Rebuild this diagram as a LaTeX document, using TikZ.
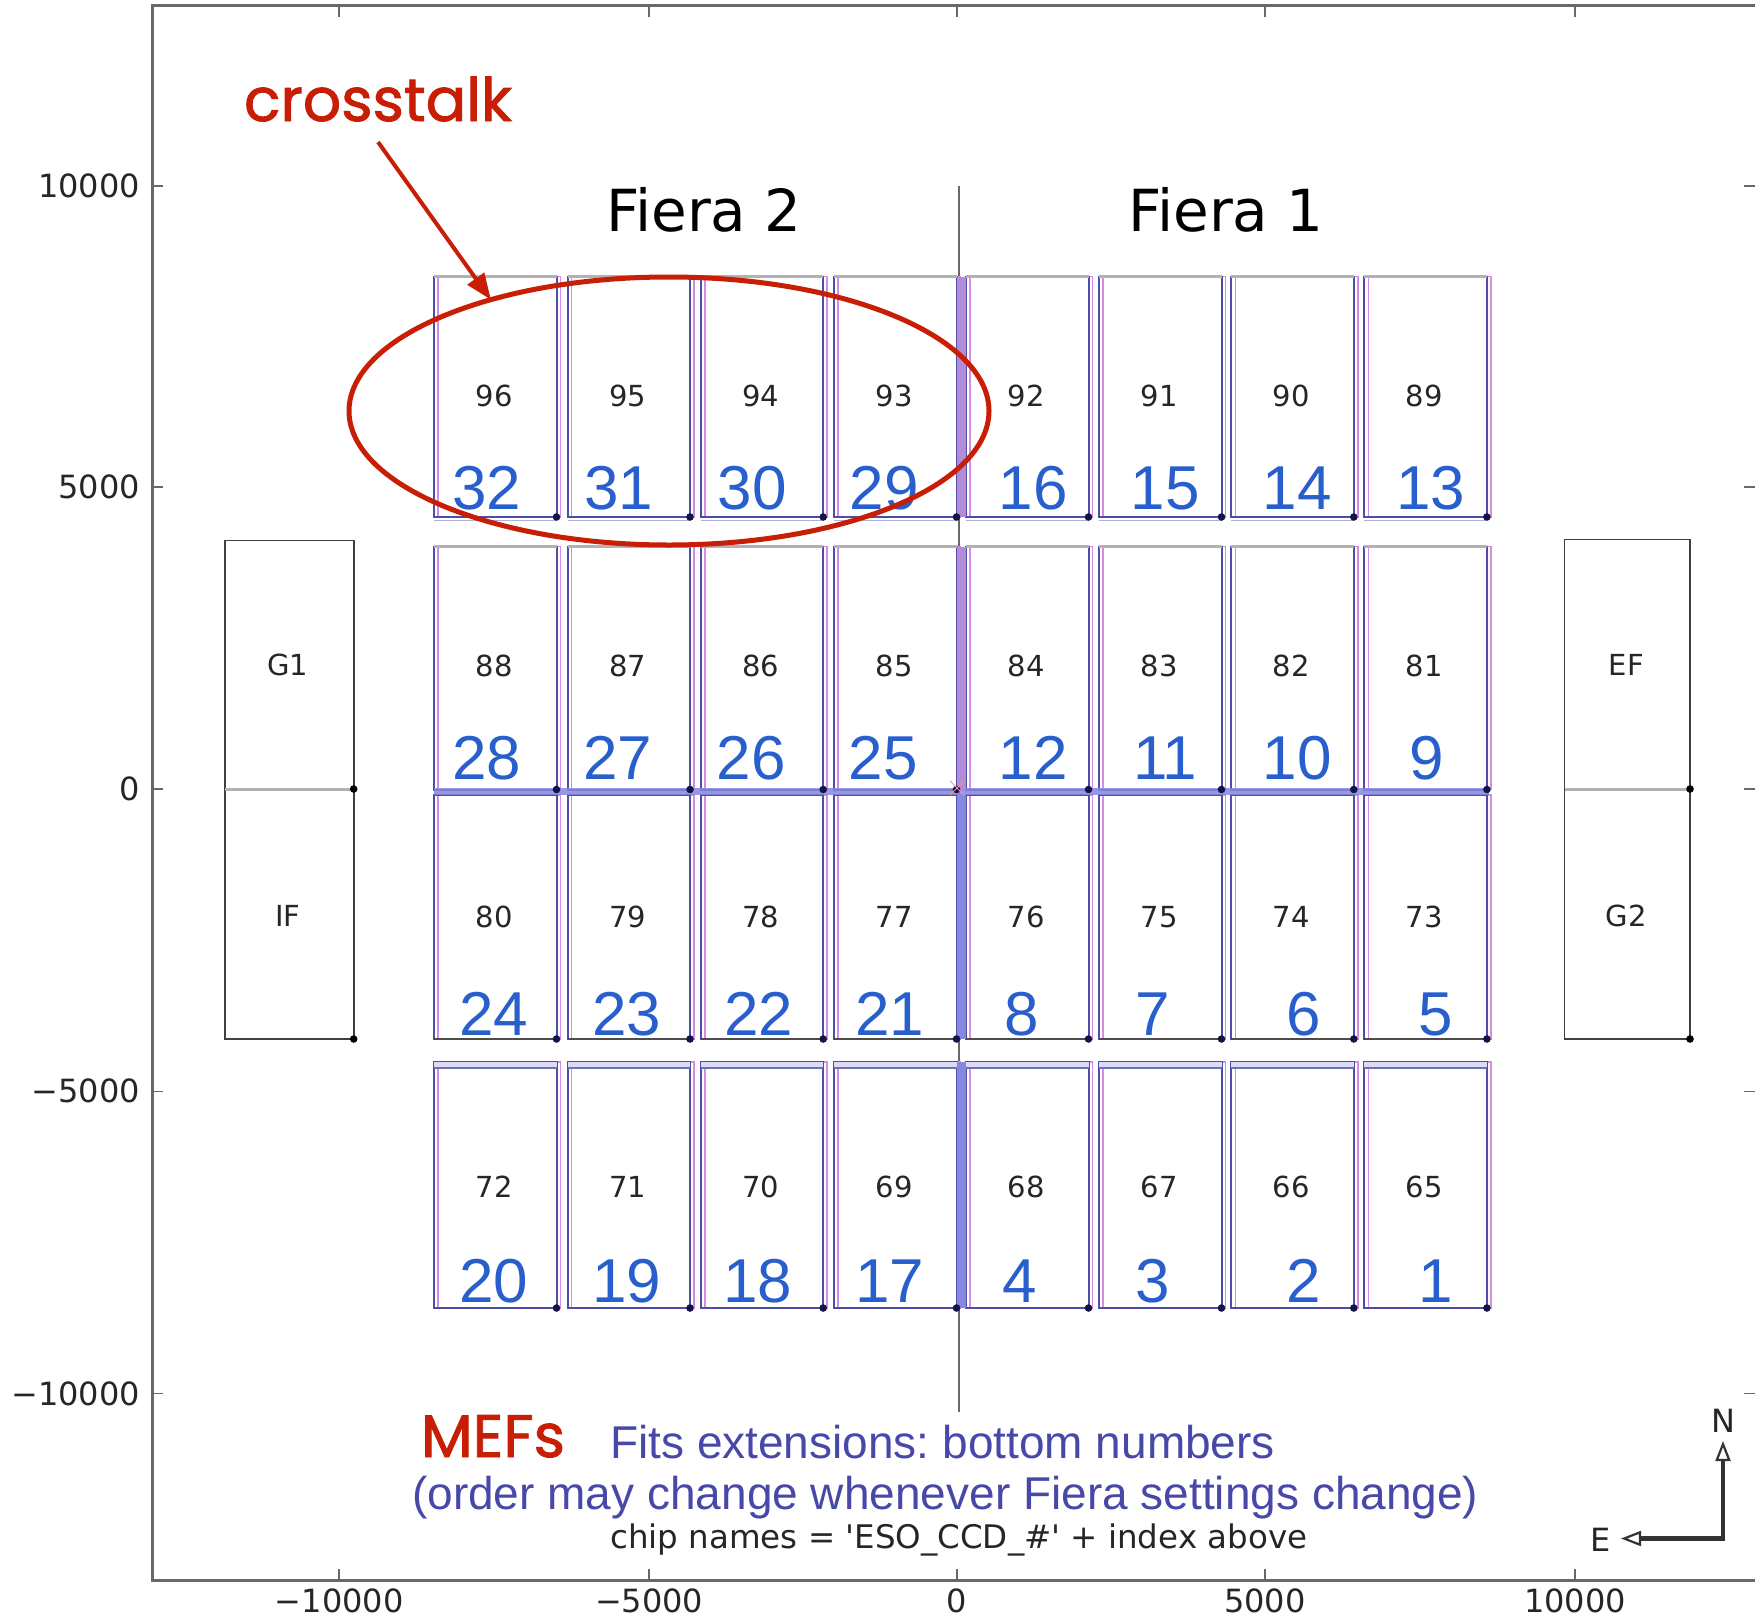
\documentclass[tikz,border=0pt]{standalone}
\usepackage{fontspec}
\setmainfont{DejaVu Sans}
\newfontfamily\arialf{Liberation Sans}
\newfontfamily\handf{Poppins}[FakeBold=1.5]
\newfontfamily\rawf{DejaVu Sans}[Ligatures=TeXOff]
\usetikzlibrary{arrows.meta,shapes.geometric}

\definecolor{chipblue}{RGB}{78,78,168}
\definecolor{chippink}{RGB}{215,140,225}
\definecolor{numblue}{RGB}{40,95,205}
\definecolor{capblue}{RGB}{72,72,168}
\definecolor{redmark}{RGB}{200,30,5}
\definecolor{axisgray}{RGB}{105,105,105}
\definecolor{dotnavy}{RGB}{20,20,70}
\definecolor{bandpurple}{RGB}{178,140,215}
\definecolor{bandblue}{RGB}{135,135,222}

\tikzset{
  smallnum/.style={font=\fontsize{29}{30}\selectfont, text=black!85, inner sep=0pt},
  bignum/.style={font=\arialf\fontsize{62}{62}\selectfont, text=numblue, anchor=base, inner sep=0pt},
  ticklbl/.style={font=\fontsize{32}{32}\selectfont, text=black!85, inner sep=0pt},
  fieralbl/.style={font=\fontsize{58}{58}\selectfont, text=black, anchor=base, inner sep=0pt},
  redtext/.style={font=\handf\fontsize{60}{60}\selectfont, text=redmark, anchor=base, inner sep=0pt},
  captxt/.style={font=\frenchspacing\arialf\fontsize{46}{46}\selectfont, text=capblue, anchor=base west, inner sep=0pt},
  chipframe/.style={chipblue, line width=2pt},
  chipshadow/.style={chippink, line width=1.6pt},
  axisline/.style={axisgray, line width=3pt},
  tickmark/.style={axisgray, line width=1.5pt},
  cornerdot/.style={fill=dotnavy},
  guidebox/.style={black!75, line width=1.6pt},
  compass/.style={black!80, line width=4.5pt,
     {Triangle[open,length=20pt,width=15pt,line width=2.2pt]}-{Triangle[open,length=20pt,width=15pt,line width=2.2pt]}},
}

\begin{document}
\begin{tikzpicture}[x=1pt,y=-1pt]
\useasboundingbox (0,0) rectangle (1755,1619);
\fill[white] (0,0) rectangle (1755,1619);

% ---- axes frame
\draw[axisline] (1755,6) -- (152,6) -- (152,1580) -- (1755,1580);
\foreach \x in {339.2,649.2,957,1264.8,1574.9} {
  \draw[tickmark] (\x,1580) -- (\x,1569);
  \draw[tickmark] (\x,6) -- (\x,17);
}
\foreach \y in {185.8,486.9,789.1,1091.3,1393.5} {
  \draw[tickmark] (152,\y) -- (163,\y);
  \draw[tickmark] (1755,\y) -- (1744,\y);
}
\foreach \y/\l [count=\i] in {185.8/10000,486.9/5000,789.1/0,1091.3/−5000,1393.5/−10000}
  \node[ticklbl, anchor=east] (ly\i) at (140,\y) {\l};
\foreach \x/\l [count=\i] in {339.2/−10000,649.2/−5000,957/0,1264.8/5000,1574.9/10000}
  \node[ticklbl] (lx\i) at (\x,1601) {\l};

% ---- central divider
\draw[axisgray, line width=2.2pt] (959,186) -- (959,1412);

% ---- CCD chips
\foreach \cx [count=\c] in {434,567.5,700.7,834,966,1099,1231.3,1364.4} {
  \foreach \ya/\yb [count=\r] in {276.5/517,546.5/789.5,795/1039,1062/1308} {
    \draw[chipshadow] (\cx+4,\ya) rectangle (\cx+126.5,\yb);
    \draw[chipframe] (\cx,\ya) rectangle (\cx+122.5,\yb);
  }
  % row specific edges
  \draw[gray!60, line width=3pt] (\cx,276.5) -- (\cx+122.5,276.5);
  \draw[gray!60, line width=3pt] (\cx,546.5) -- (\cx+122.5,546.5);
  \draw[chipblue!45, line width=1.2pt] (\cx,520.5) -- (\cx+122.5,520.5);
  \draw[black!70, line width=1.8pt] (\cx,1039) -- (\cx+122.5,1039);
  \fill[bandblue!30] (\cx,1062) rectangle (\cx+122.5,1068);
  \draw[chipblue!80, line width=1.2pt] (\cx,1068) -- (\cx+122.5,1068);
}
% bands along the Fiera boundaries
\fill[bandblue, opacity=0.85] (434,787.5) rectangle (1489,795);
\fill[bandpurple] (956.5,276.5) rectangle (966,517);
\fill[bandpurple] (956.5,546.5) rectangle (966,789);
\fill[bandblue] (956.5,795) rectangle (966,1039);
\fill[bandblue] (956.5,1062) rectangle (966,1308);
% corner dots
\foreach \cx in {434,567.5,700.7,834,966,1099,1231.3,1364.4}
  \foreach \yb in {517,789.5,1039,1308}
    \fill[cornerdot] (\cx+122.5,\yb) circle (3.8);
% origin marker
\draw[red!45, line width=1pt] (950,781) -- (964,795) (950,795) -- (964,781);

% ---- guide CCDs
\draw[guidebox] (225,540.6) rectangle (353.7,1039);
\draw[gray!60, line width=3pt] (225,789) -- (353.7,789);
\draw[guidebox] (1564.5,539.5) rectangle (1690,1039);
\draw[gray!60, line width=3pt] (1564.5,789) -- (1690,789);
\foreach \p in {(353.7,789),(353.7,1039),(1690,789),(1690,1039)}
  \fill[black] \p circle (3.8);
\node[smallnum] (g1) at (287.7,664.9) {G1};
\node[smallnum] (if) at (287.7,915.6) {IF};
\node[smallnum] (ef) at (1626.3,664.9) {EF};
\node[smallnum] (g2) at (1626.3,915.6) {G2};

% ---- chip names (small numbers)
\foreach \cx [count=\c] in {494,627.5,760.7,894,1026,1159,1291.3,1424.4} {
  \foreach \yc [count=\r] in {396.2,666,916.7,1186.5} {
    \pgfmathtruncatemacro{\nm}{97-8*\r-\c+8}
    \node[smallnum] (s\r-\c) at (\cx,\yc) {\nm};
  }
}

% ---- FITS extension numbers
\foreach \x/\n [count=\k] in {486.9/32,619/31,752.2/30,884.2/29,1033.1/16,1165.2/15,1297.3/14,1430.5/13}
  \node[bignum] (ba\k) at (\x,509) {\n};
\foreach \x/\n [count=\k] in {486.9/28,617.9/27,751.1/26,883.1/25,1033.1/12,1165.2/11,1297.3/10,1427.1/9}
  \node[bignum] (bb\k) at (\x,779) {\n};
\foreach \x/\n [count=\k] in {493.6/24,626.8/23,758.9/22,889.8/21,1021.9/8,1152.9/7,1304/6,1436.1/5}
  \node[bignum] (bc\k) at (\x,1035.5) {\n};
\foreach \x/\n [count=\k] in {493.6/20,626.8/19,757.8/18,889.8/17,1019.7/4,1152.9/3,1304/2,1436.1/1}
  \node[bignum] (bd\k) at (\x,1302) {\n};

% ---- Fiera titles
\node[fieralbl] (f2) at (704,231.7) {Fiera 2};
\node[fieralbl] (f1) at (1226,231.7) {Fiera 1};

% ---- captions
\node[redtext] (mefs) at (493,1457) {MEFs};
\node[captxt] (cap1) at (610,1458.5) {Fits extensions: bottom numbers};
\node[captxt] (cap2) at (412,1509) {(order may change whenever Fiera settings change)};
\node[font=\rawf\fontsize{32.5}{32.5}\selectfont, text=black!85, anchor=base west, inner sep=0pt] (cap3) at (610,1548) {chip names = 'ESO\_CCD\_\#' + index above};

% ---- compass
\coordinate (cc) at (1723,1538.5);
\coordinate (nt) at (1723,1441);
\coordinate (et) at (1621,1538.5);
\draw[compass] (nt) -- (cc) -- (et);
\node[ticklbl] (nlbl) at (1723,1421) {N};
\node[ticklbl] (elbl) at (1601,1540) {E};

% ---- crosstalk annotation
\node[redtext] (xtalk) at (378,121) {crosstalk};
\node[draw=redmark, line width=5pt, ellipse, minimum width=640pt, minimum height=268pt, inner sep=0pt, outer sep=0pt] (xt) at (669,411) {};
\coordinate (xs) at (378,142);
\draw[redmark, line width=4pt, -{Triangle[length=26pt,width=20pt]}] (xs) -- (xt.148);
\end{tikzpicture}
\end{document}
